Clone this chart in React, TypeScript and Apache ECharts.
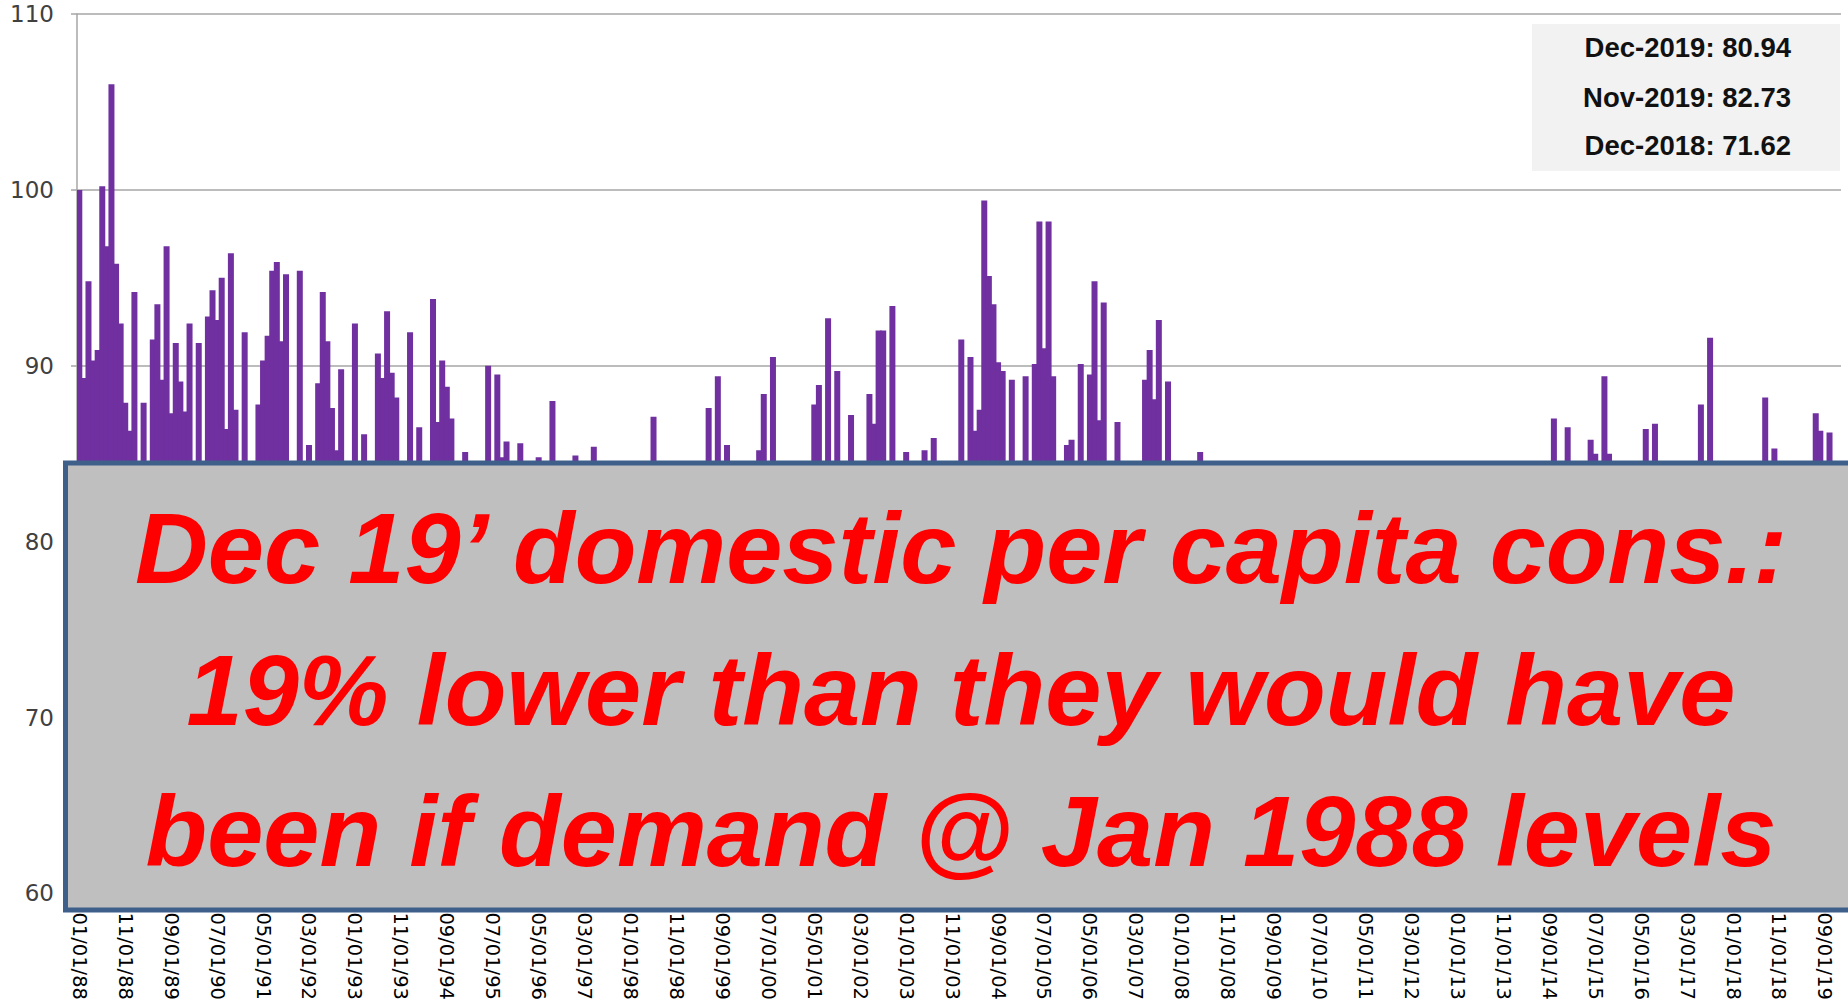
import React, { useEffect, useRef } from "react";
import * as echarts from "echarts";

const FIRST_YEAR = 1988;
const LAST_YEAR = 2019;
const _ = null;

// Monthly values (Jan..Dec). null = bar hidden below the overlay box (value not readable)
const v1988 = [100.0, 89.3, 94.8, 90.3, 90.9, 100.2, 96.8, 106.0, 95.8, 92.4, 87.9, 86.3];
const v1989 = [94.2, _, 87.9, _, 91.5, 93.5, 89.2, 96.8, 87.3, 91.3, 89.1, 87.4];
const v1990 = [92.4, _, 91.3, _, 92.8, 94.3, 92.6, 95.0, 86.4, 96.4, 87.5, _];
const v1991 = [91.9, _, _, 87.8, 90.3, 91.7, 95.4, 95.9, 91.4, 95.2, _, _];
const v1992 = [95.4, _, 85.5, _, 89.0, 94.2, 91.4, 87.6, 85.2, 89.8, _, _];
const v1993 = [92.4, _, 86.1, _, _, 90.7, 89.3, 93.1, 89.6, 88.2, _, _];
const v1994 = [91.9, _, 86.5, _, _, 93.8, 86.8, 90.3, 88.8, 87.0, _, _];
const v1995 = [85.1, _, _, _, _, 90.0, _, 89.5, 84.8, 85.7, _, _];
const v1996 = [85.6, _, _, _, 84.8, _, _, 88.0, _, _, _, _];
const v1997 = [84.9, _, _, _, 85.4, _, _, _, _, _, _, _];
const v1998 = [_, _, _, _, _, 87.1, _, _, _, _, _, _];
const v1999 = [_, _, _, _, _, 87.6, _, 89.4, _, 85.5, _, _];
const v2000 = [_, _, _, _, 85.2, 88.4, _, 90.5, _, _, _, _];
const v2001 = [_, _, _, _, 87.8, 88.9, _, 92.7, _, 89.7, _, _];
const v2002 = [87.2, _, _, _, 88.4, 86.7, 92.0, 92.0, _, 93.4, _, _];
const v2003 = [85.1, _, _, _, 85.2, _, 85.9, _, _, _, _, _];
const v2004 = [91.5, _, 90.5, 86.3, 87.5, 99.4, 95.1, 93.5, 90.2, 89.7, _, 89.2];
const v2005 = [_, _, 89.4, _, 90.1, 98.2, 91.0, 98.2, 89.4, _, _, 85.5];
const v2006 = [85.8, _, 90.1, _, 89.5, 94.8, 86.9, 93.6, _, _, 86.8, _];
const v2007 = [_, _, _, _, 89.2, 90.9, 88.1, 92.6, _, 89.1, _, _];
const v2008 = [_, _, _, _, 85.1, _, _, _, _, _, _, _];
const v2009 = [_, _, _, _, _, _, _, _, _, _, _, _];
const v2010 = [_, _, _, _, _, _, _, _, _, _, _, _];
const v2011 = [_, _, _, _, _, _, _, _, _, _, _, _];
const v2012 = [_, _, _, _, _, _, _, _, _, _, _, _];
const v2013 = [_, _, _, _, _, _, _, _, _, _, _, _];
const v2014 = [_, _, _, _, _, _, _, _, _, 87.0, _, _];
const v2015 = [86.5, _, _, _, _, 85.8, 85.0, _, 89.4, 85.0, _, _];
const v2016 = [_, _, _, _, _, 86.4, _, 86.7, _, _, _, _];
const v2017 = [_, _, _, _, _, 87.8, _, 91.6, _, _, _, _];
const v2018 = [_, _, _, _, _, _, _, 88.2, _, 85.3, _, 71.62];
const v2019 = [_, _, _, _, _, _, 87.3, 86.3, _, 86.2, 82.73, 80.94];

const VALUES = [
  ...v1988, ...v1989, ...v1990, ...v1991, ...v1992, ...v1993, ...v1994, ...v1995,
  ...v1996, ...v1997, ...v1998, ...v1999, ...v2000, ...v2001, ...v2002, ...v2003,
  ...v2004, ...v2005, ...v2006, ...v2007, ...v2008, ...v2009, ...v2010, ...v2011,
  ...v2012, ...v2013, ...v2014, ...v2015, ...v2016, ...v2017, ...v2018, ...v2019,
];

const CATEGORIES: string[] = [];
for (let y = FIRST_YEAR; y <= LAST_YEAR; y++) {
  for (let m = 1; m <= 12; m++) {
    CATEGORIES.push(`${String(m).padStart(2, "0")}/01/${String(y % 100).padStart(2, "0")}`);
  }
}

const Y_MIN = 60;
const Y_MAX = 110;
const Y_STEP = 10;
const LABEL_EVERY = 10;

const NOTE_LINES = [
  "Dec 19’ domestic per capita cons.:",
  "19% lower than they would have",
  "been if demand @ Jan 1988 levels",
];
const CALLOUT_LINES = ["Dec-2019: 80.94", "Nov-2019: 82.73", "Dec-2018: 71.62"];

export default function App() {
  const ref = useRef<HTMLDivElement>(null);
  useEffect(() => {
    if (!ref.current) return;
    const chart = echarts.init(ref.current, undefined, { renderer: "svg" });
    const noteY = [548, 690, 831];
    const calloutY = [47, 97, 145];
    chart.setOption({
      animation: false,
      backgroundColor: "#ffffff",
      grid: { left: 77, right: 7, top: 14, bottom: 106, containLabel: false },
      xAxis: {
        type: "category",
        data: CATEGORIES,
        axisLine: { show: true, lineStyle: { color: "#A6A6A6", width: 1.5 } },
        axisTick: { show: false },
        axisLabel: {
          interval: LABEL_EVERY - 1,
          rotate: -90,
          fontFamily: "DejaVu Sans",
          fontSize: 19.5,
          color: "#000000",
          margin: 19,
        },
      },
      yAxis: {
        type: "value",
        min: Y_MIN,
        max: Y_MAX,
        interval: Y_STEP,
        axisLine: { show: true, lineStyle: { color: "#A6A6A6", width: 1.5 } },
        axisTick: { show: true, length: 6, lineStyle: { color: "#A6A6A6", width: 1.5 } },
        splitLine: { show: true, lineStyle: { color: "#A6A6A6", width: 1.5 } },
        axisLabel: {
          fontFamily: "DejaVu Sans",
          fontSize: 23,
          color: "#404040",
          margin: 23,
        },
      },
      series: [
        {
          type: "bar",
          data: VALUES,
          large: false,
          barWidth: 6,
          itemStyle: { color: "#7030A0" },
        },
      ],
      graphic: [
        {
          type: "rect",
          z: 100,
          shape: { x: 65.5, y: 463, width: 1800, height: 447 },
          style: { fill: "#BFBFBF", stroke: "#3E5F8A", lineWidth: 5 },
        },
        ...NOTE_LINES.map((t, i) => ({
          type: "text",
          z: 101,
          x: 961,
          y: noteY[i],
          style: {
            text: t,
            fill: "#FF0000",
            fontFamily: "Liberation Sans",
            fontStyle: "italic",
            fontWeight: "bold",
            fontSize: 101,
            align: "center",
            verticalAlign: "middle",
          },
        })),
        {
          type: "rect",
          z: 100,
          shape: { x: 1532, y: 24, width: 308, height: 147 },
          style: { fill: "#F2F2F2" },
        },
        ...CALLOUT_LINES.map((t, i) => ({
          type: "text",
          z: 101,
          x: 1791,
          y: calloutY[i],
          style: {
            text: t,
            fill: "#111111",
            fontFamily: "Liberation Sans",
            fontWeight: "bold",
            fontSize: 27.5,
            align: "right",
            verticalAlign: "middle",
          },
        })),
      ],
    });
    return () => chart.dispose();
  }, []);
  return (
    <div
      ref={ref}
      style={{ position: "absolute", left: 0, top: 0, width: 1848, height: 1003 }}
    />
  );
}
